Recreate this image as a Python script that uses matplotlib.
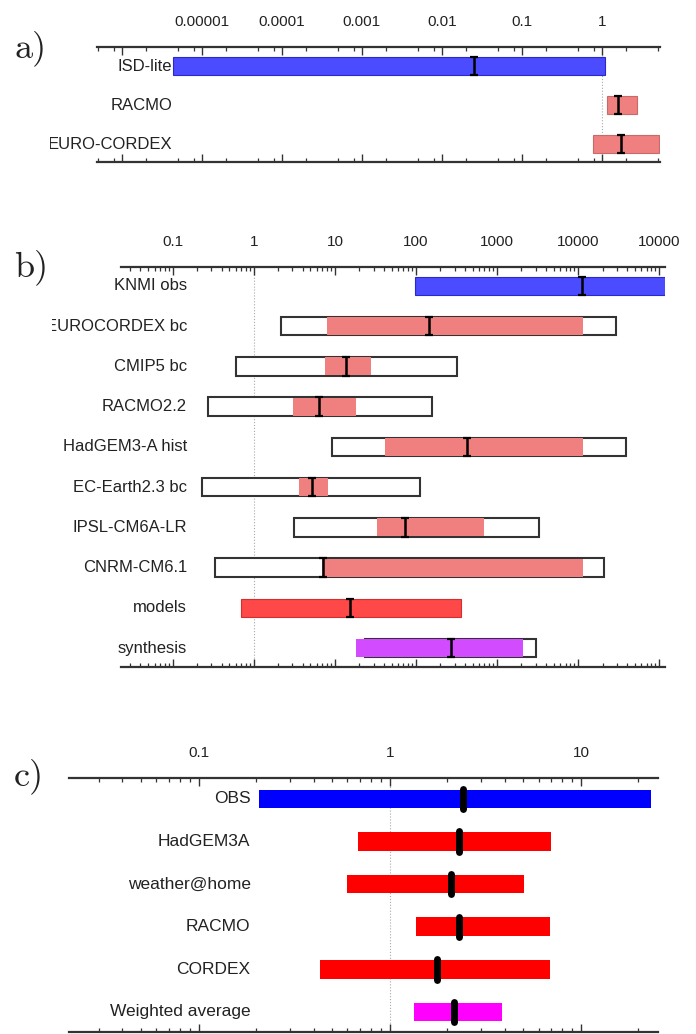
import matplotlib
matplotlib.use("Agg")
import matplotlib.pyplot as plt
from matplotlib.ticker import LogLocator, NullFormatter
from matplotlib.transforms import Bbox

W, H = 696, 1034

# ---- panel a data ----
a_names = ["ISD-lite", "RACMO", "EURO-CORDEX"]
a_lo = [4.4e-6, 1.14, 0.78]
a_hi = [1.1, 2.7, 5.2]
a_mid = [0.025, 1.57, 1.74]
a_kind = ["obs", "model", "model"]
a_ticks = [1e-6, 1e-5, 1e-4, 1e-3, 1e-2, 1e-1, 1]
a_ticklabels = ["", "0.00001", "0.0001", "0.001", "0.01", "0.1", "1"]

# ---- panel b data ----
b_names = ["KNMI obs", "EUROCORDEX bc", "CMIP5 bc", "RACMO2.2", "HadGEM3-A hist",
           "EC-Earth2.3 bc", "IPSL-CM6A-LR", "CNRM-CM6.1", "models", "synthesis"]
b_kind = ["obs", "model", "model", "model", "model", "model", "model", "model",
          "models", "synth"]
# outer (white, outlined) range
b_out_lo = [None, 2.15, 0.61, 0.27, 9.1, 0.23, 3.1, 0.33, None, 23.6]
b_out_hi = [None, 2.97e4, 318, 158, 3.9e4, 113, 3300, 2.1e4, None, 3000]
# inner (filled) range
b_in_lo = [98, 8.1, 7.6, 3.06, 42, 3.6, 33, 6.9, 0.70, 18]
b_in_hi = [1.2e5, 1.15e4, 28, 18, 1.15e4, 8.2, 700, 1.15e4, 355, 2100]
b_mid = [1.13e4, 144, 13.9, 6.3, 425, 5.2, 74, 7.1, 15.2, 268]
b_ticks = [0.1, 1, 10, 100, 1000, 1e4, 1e5]
b_ticklabels = ["0.1", "1", "10", "100", "1000", "10000", "10000"]

# ---- panel c data ----
c_names = ["OBS", "HadGEM3A", "weather@home", "RACMO", "CORDEX", "Weighted average"]
c_lo = [0.206, 0.686, 0.597, 1.37, 0.433, 1.34]
c_hi = [23.2, 6.97, 5.05, 6.86, 6.86, 3.85]
c_mid = [2.41, 2.30, 2.09, 2.30, 1.76, 2.17]
c_kind = ["obs", "model", "model", "model", "model", "synth"]
c_ticks = [0.1, 1, 10]
c_ticklabels = ["0.1", "1", "10"]

ab_fill = {"obs": "#4b4bff", "model": "#f08080", "models": "#ff4848", "synth": "#d24bff"}
ab_edge = {"obs": "#2a2ac8", "model": "#c86a6a", "models": "#d03030", "synth": "#d24bff"}
c_fill = {"obs": "#0000ff", "model": "#ff0000", "synth": "#ff00ff"}

label_font = ["Liberation Sans", "DejaVu Sans"]
txt_col = "#222222"


def make_axes(fig, left, right, top, bottom):
    return fig.add_axes([left / W, 1 - bottom / H, (right - left) / W, (bottom - top) / H])


def style_axis(ax, xlim, ylim, ticks, labels, subs):
    ax.set_xscale("log")
    ax.set_xlim(*xlim)
    ax.set_ylim(*ylim)
    ax.set_xticks(ticks, labels)
    ax.xaxis.set_minor_locator(LogLocator(base=10, subs=subs, numticks=100))
    ax.xaxis.set_minor_formatter(NullFormatter())
    ax.set_yticks([])
    for side in ["left", "right"]:
        ax.spines[side].set_visible(False)
    for side in ["top", "bottom"]:
        ax.spines[side].set_linewidth(1.6)
        ax.spines[side].set_color("#333333")
    ax.tick_params(axis="x", which="both", top=True, bottom=True, labeltop=True,
                   labelbottom=False, direction="in", color="#333333")
    ax.tick_params(axis="x", which="major", length=6, width=1.0, pad=13,
                   labelsize=11, labelcolor=txt_col)
    ax.tick_params(axis="x", which="minor", length=3, width=0.9)
    for t in ax.get_xticklabels():
        t.set_fontfamily(label_font)
    ax.axvline(1, color="#aaaaaa", lw=0.8, ls=":", zorder=0)
    ax.patch.set_alpha(0)


def row_label(ax, x, y, s, size, clip_x):
    t = ax.text(x, y, s, ha="right", va="center", fontsize=size, color=txt_col,
                family=label_font, zorder=1)
    t.set_clip_box(Bbox.from_extents(clip_x, 0, W, H))
    t.set_clip_on(True)


def i_marker(ax, x, y, half):
    ax.errorbar([x], [y], yerr=half, fmt="none", ecolor="black", elinewidth=1.8,
                capsize=3, capthick=1.6, zorder=5)


fig = plt.figure(figsize=(W / 100, H / 100), dpi=100)

# ---------------- a) ----------------
ax = make_axes(fig, 97, 660, 47, 162)
style_axis(ax, (4.9e-7, 5.3), (2.46, -0.487), a_ticks, a_ticklabels, (2.0, 5.0, 8.0))
h = 0.46
for i, name in enumerate(a_names):
    k = a_kind[i]
    ax.barh(i, a_hi[i] - a_lo[i], left=a_lo[i], height=h, color=ab_fill[k],
            edgecolor=ab_edge[k], lw=0.8, zorder=3)
    i_marker(ax, a_mid[i], i, h / 2)
    row_label(ax, 4.3e-6, i, name, 12, 50)
fig.text(14 / W, 1 - 48 / H, "a)", fontsize=26, family="cmr10", ha="left", va="center",
         color=txt_col)

# ---------------- b) ----------------
ax = make_axes(fig, 121, 665, 267, 667)
style_axis(ax, (0.023, 1.18e5), (9.47, -0.47), b_ticks, b_ticklabels, "auto")
h = 0.46
for i, name in enumerate(b_names):
    k = b_kind[i]
    if b_out_lo[i] is not None:
        ax.barh(i, b_out_hi[i] - b_out_lo[i], left=b_out_lo[i], height=h, color="white",
                edgecolor="#333333", lw=1.5, zorder=2)
    edge = ab_edge[k] if k in ("obs", "models") else "none"
    ax.barh(i, b_in_hi[i] - b_in_lo[i], left=b_in_lo[i], height=h * 0.97,
            color=ab_fill[k], edgecolor=edge, lw=0.8, zorder=3)
    i_marker(ax, b_mid[i], i, h / 2)
    row_label(ax, 0.15, i, name, 12, 52)
fig.text(14 / W, 1 - 267 / H, "b)", fontsize=26, family="cmr10", ha="left", va="center",
         color=txt_col)

# ---------------- c) ----------------
ax = make_axes(fig, 69, 658, 778, 1032)
style_axis(ax, (0.021, 25.3), (5.47, -0.49), c_ticks, c_ticklabels, "auto")
h = 0.44
for i, name in enumerate(c_names):
    ax.barh(i, c_hi[i] - c_lo[i], left=c_lo[i], height=h, color=c_fill[c_kind[i]],
            edgecolor="none", zorder=3)
    ax.plot([c_mid[i], c_mid[i]], [i - 0.24, i + 0.24], color="black", lw=5,
            solid_capstyle="round", zorder=5)
    row_label(ax, 0.187, i, name, 12.5, 0)
fig.text(14 / W, 1 - 776 / H, "c)", fontsize=26, family="cmr10", ha="left", va="center",
         color=txt_col)

fig.savefig("out.png", dpi=100)
